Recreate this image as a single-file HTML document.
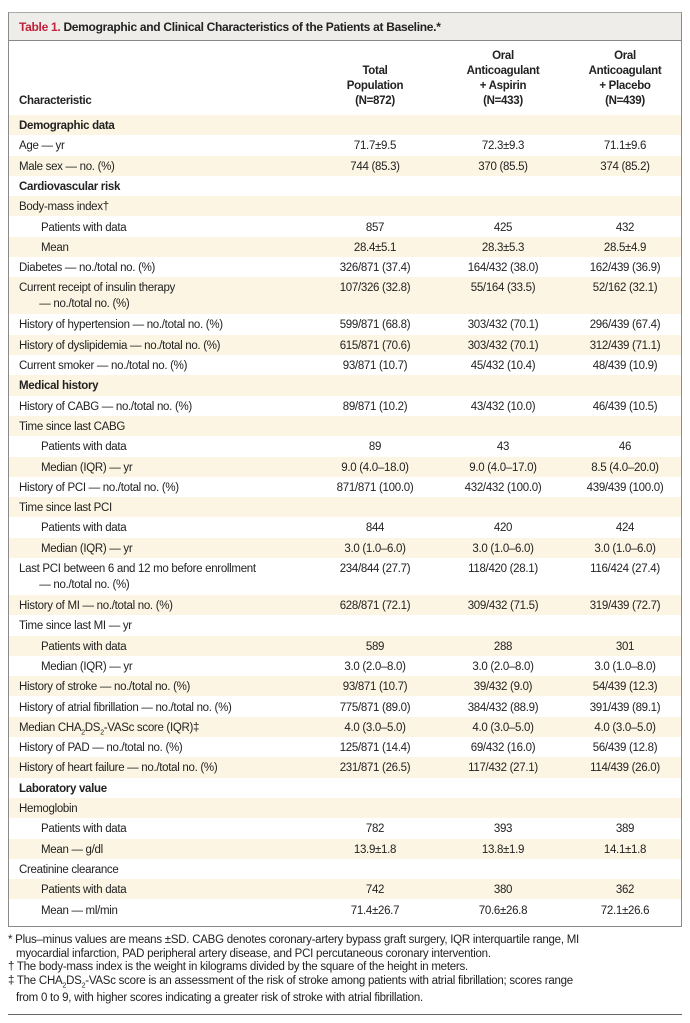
<!DOCTYPE html>
<html><head><meta charset="utf-8"><style>
body{margin:0;background:#fff;width:690px;height:1023px;position:relative;font-family:"Liberation Sans",sans-serif;color:#222;overflow:hidden}
.box{position:absolute;left:8px;top:12px;width:672px;height:913px;border:1px solid #8a8a8a;border-top:1px solid #aaa}
.title{position:absolute;left:0;top:0;width:672px;height:28px;background:#eeede9;border-bottom:1px solid #888;font-size:12px;line-height:28px;padding-left:10px;box-sizing:border-box;font-weight:bold;letter-spacing:-0.3px}
.title span{color:#c0223a}
.hd{position:absolute;font-size:11.5px;font-weight:bold;text-align:center;line-height:15px;letter-spacing:-0.3px}
.row{position:absolute;left:0;width:672px;font-size:11.5px;letter-spacing:-0.3px}
.row.c{background:#fcf5e3}
.row div{position:absolute;top:3px;line-height:16px}
.l{left:10px}.i{left:32px}.b{font-weight:bold}
.v1,.v2,.v3{width:110px;text-align:center}
.v1{left:311px}.v2{left:439px}.v3{left:561px}
.fn{position:absolute;left:8px;top:934px;width:672px;font-size:11.5px;line-height:13.5px;letter-spacing:-0.25px}
.fn p{margin:0;padding-left:8px;text-indent:-8px}
.bot{position:absolute;left:8px;top:1014px;width:674px;height:1px;background:#666}
</style></head><body>
<div class="box">
<div class="title"><span>Table 1.</span> Demographic and Clinical Characteristics of the Patients at Baseline.*</div>
<div class="hd" style="left:10px;top:81px;text-align:left">Characteristic</div>
<div class="hd" style="left:311px;top:51px;width:110px">Total<br>Population<br>(N=872)</div>
<div class="hd" style="left:439px;top:36px;width:110px">Oral<br>Anticoagulant<br>+ Aspirin<br>(N=433)</div>
<div class="hd" style="left:561px;top:36px;width:110px">Oral<br>Anticoagulant<br>+ Placebo<br>(N=439)</div>
<div id="rows"></div>
</div>
<div class="fn">
<p>* Plus–minus values are means ±SD. CABG denotes coronary-artery bypass graft surgery, IQR interquartile range, MI<br>myocardial infarction, PAD peripheral artery disease, and PCI percutaneous coronary intervention.</p>
<p>† The body-mass index is the weight in kilograms divided by the square of the height in meters.</p>
<p>‡ The CHA<sub style="font-size:7px">2</sub>DS<sub style="font-size:7px">2</sub>-VASc score is an assessment of the risk of stroke among patients with atrial fibrillation; scores range<br>from 0 to 9, with higher scores indicating a greater risk of stroke with atrial fibrillation.</p>
</div>
<div class="bot"></div>
<script>
var R=[
["b","Demographic data"],
["l","Age — yr","71.7±9.5","72.3±9.3","71.1±9.6"],
["l","Male sex — no. (%)","744 (85.3)","370 (85.5)","374 (85.2)"],
["b","Cardiovascular risk"],
["l","Body-mass index†"],
["i","Patients with data","857","425","432"],
["i","Mean","28.4±5.1","28.3±5.3","28.5±4.9"],
["l","Diabetes — no./total no. (%)","326/871 (37.4)","164/432 (38.0)","162/439 (36.9)"],
["d","Current receipt of insulin therapy<br>&nbsp;&nbsp;&nbsp;&nbsp;&nbsp;&nbsp;&nbsp;— no./total no. (%)","107/326 (32.8)","55/164 (33.5)","52/162 (32.1)"],
["l","History of hypertension — no./total no. (%)","599/871 (68.8)","303/432 (70.1)","296/439 (67.4)"],
["l","History of dyslipidemia — no./total no. (%)","615/871 (70.6)","303/432 (70.1)","312/439 (71.1)"],
["l","Current smoker — no./total no. (%)","93/871 (10.7)","45/432 (10.4)","48/439 (10.9)"],
["b","Medical history"],
["l","History of CABG — no./total no. (%)","89/871 (10.2)","43/432 (10.0)","46/439 (10.5)"],
["l","Time since last CABG"],
["i","Patients with data","89","43","46"],
["i","Median (IQR) — yr","9.0 (4.0–18.0)","9.0 (4.0–17.0)","8.5 (4.0–20.0)"],
["l","History of PCI — no./total no. (%)","871/871 (100.0)","432/432 (100.0)","439/439 (100.0)"],
["l","Time since last PCI"],
["i","Patients with data","844","420","424"],
["i","Median (IQR) — yr","3.0 (1.0–6.0)","3.0 (1.0–6.0)","3.0 (1.0–6.0)"],
["d","Last PCI between 6 and 12 mo before enrollment<br>&nbsp;&nbsp;&nbsp;&nbsp;&nbsp;&nbsp;&nbsp;— no./total no. (%)","234/844 (27.7)","118/420 (28.1)","116/424 (27.4)"],
["l","History of MI — no./total no. (%)","628/871 (72.1)","309/432 (71.5)","319/439 (72.7)"],
["l","Time since last MI — yr"],
["i","Patients with data","589","288","301"],
["i","Median (IQR) — yr","3.0 (2.0–8.0)","3.0 (2.0–8.0)","3.0 (1.0–8.0)"],
["l","History of stroke — no./total no. (%)","93/871 (10.7)","39/432 (9.0)","54/439 (12.3)"],
["l","History of atrial fibrillation — no./total no. (%)","775/871 (89.0)","384/432 (88.9)","391/439 (89.1)"],
["l","Median CHA<sub style='font-size:7px'>2</sub>DS<sub style='font-size:7px'>2</sub>-VASc score (IQR)‡","4.0 (3.0–5.0)","4.0 (3.0–5.0)","4.0 (3.0–5.0)"],
["l","History of PAD — no./total no. (%)","125/871 (14.4)","69/432 (16.0)","56/439 (12.8)"],
["l","History of heart failure — no./total no. (%)","231/871 (26.5)","117/432 (27.1)","114/439 (26.0)"],
["b","Laboratory value"],
["l","Hemoglobin"],
["i","Patients with data","782","393","389"],
["i","Mean — g/dl","13.9±1.8","13.8±1.9","14.1±1.8"],
["l","Creatinine clearance"],
["i","Patients with data","742","380","362"],
["i","Mean — ml/min","71.4±26.7","70.6±26.8","72.1±26.6"]
];
var y=102,h="";
R.forEach(function(r,k){
 var hh=r[0]=="d"?37:20.3;
 var cls=r[0]=="b"?"l b":(r[0]=="i"?"i":"l");
 h+='<div class="row'+(k%2==0?' c':'')+'" style="top:'+y+'px;height:'+hh+'px"><div class="'+cls+'">'+r[1]+'</div>';
 if(r[2])h+='<div class="v1">'+r[2]+'</div><div class="v2">'+r[3]+'</div><div class="v3">'+r[4]+'</div>';
 h+='</div>';y+=hh;
});
document.getElementById("rows").innerHTML=h;
</script>
</body></html>
